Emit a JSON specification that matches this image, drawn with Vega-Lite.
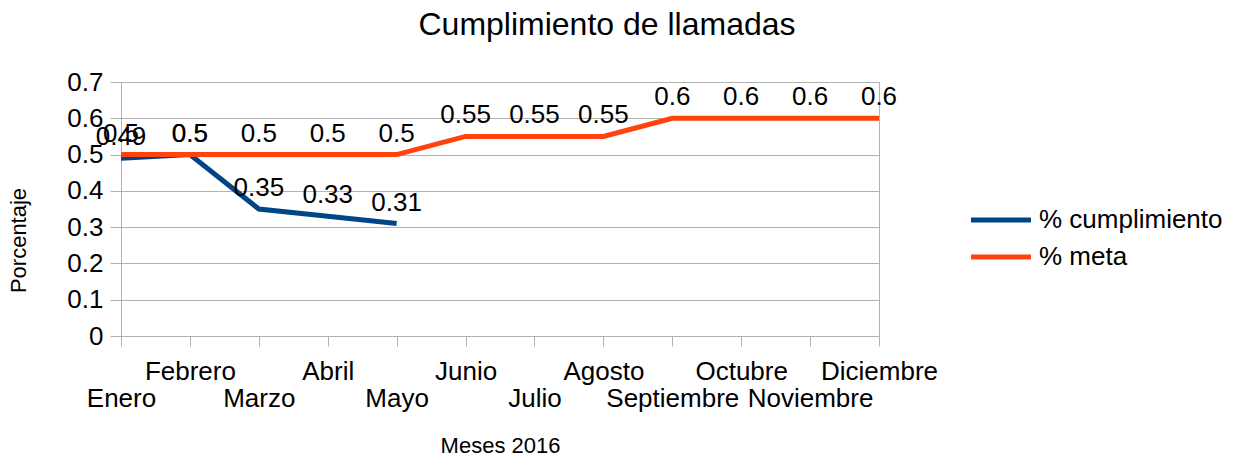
{
  "$schema": "https://vega.github.io/schema/vega-lite/v6.json",
  "autosize": "none",
  "padding": {"left": 121, "top": 82, "right": 363, "bottom": 122},
  "width": 758,
  "height": 254,
  "background": "white",
  "title": {
    "text": "Cumplimiento de llamadas",
    "font": "Liberation Sans",
    "fontSize": 32,
    "fontWeight": "normal",
    "color": "black",
    "anchor": "middle",
    "frame": "group",
    "dx": 107,
    "offset": 27
  },
  "config": {
    "view": {"stroke": "#b3b3b3", "strokeWidth": 1},
    "font": "Liberation Sans"
  },
  "data": {
    "values": [
      {"mes": "Enero", "serie": "% cumplimiento", "valor": 0.49},
      {"mes": "Febrero", "serie": "% cumplimiento", "valor": 0.5},
      {"mes": "Marzo", "serie": "% cumplimiento", "valor": 0.35},
      {"mes": "Abril", "serie": "% cumplimiento", "valor": 0.33},
      {"mes": "Mayo", "serie": "% cumplimiento", "valor": 0.31},
      {"mes": "Enero", "serie": "% meta", "valor": 0.5},
      {"mes": "Febrero", "serie": "% meta", "valor": 0.5},
      {"mes": "Marzo", "serie": "% meta", "valor": 0.5},
      {"mes": "Abril", "serie": "% meta", "valor": 0.5},
      {"mes": "Mayo", "serie": "% meta", "valor": 0.5},
      {"mes": "Junio", "serie": "% meta", "valor": 0.55},
      {"mes": "Julio", "serie": "% meta", "valor": 0.55},
      {"mes": "Agosto", "serie": "% meta", "valor": 0.55},
      {"mes": "Septiembre", "serie": "% meta", "valor": 0.6},
      {"mes": "Octubre", "serie": "% meta", "valor": 0.6},
      {"mes": "Noviembre", "serie": "% meta", "valor": 0.6},
      {"mes": "Diciembre", "serie": "% meta", "valor": 0.6}
    ]
  },
  "encoding": {
    "x": {
      "field": "mes",
      "type": "nominal",
      "sort": ["Enero", "Febrero", "Marzo", "Abril", "Mayo", "Junio", "Julio", "Agosto", "Septiembre", "Octubre", "Noviembre", "Diciembre"],
      "scale": {"type": "point", "padding": 0},
      "axis": {
        "title": "Meses 2016",
        "titleFont": "Liberation Sans",
        "titleFontSize": 22,
        "titleFontWeight": "normal",
        "titleColor": "black",
        "titleBaseline": "top",
        "titleAlign": "center",
        "titleY": 99,
        "labelAngle": 0,
        "labelFont": "Liberation Sans",
        "labelFontSize": 26,
        "labelColor": "black",
        "labelBaseline": "top",
        "labelLineHeight": 27,
        "labelPadding": 12,
        "labelOverlap": false,
        "labelBound": false,
        "labelLimit": 400,
        "labelExpr": "indexof(['Enero','Febrero','Marzo','Abril','Mayo','Junio','Julio','Agosto','Septiembre','Octubre','Noviembre','Diciembre'], datum.value) % 2 == 0 ? [' ', datum.value] : datum.value",
        "tickSize": 10,
        "tickColor": "#b3b3b3",
        "domainColor": "#b3b3b3",
        "grid": false
      }
    },
    "y": {
      "field": "valor",
      "type": "quantitative",
      "scale": {"domain": [0, 0.7], "nice": false},
      "axis": {
        "title": "Porcentaje",
        "titleFont": "Liberation Sans",
        "titleFontSize": 22,
        "titleFontWeight": "normal",
        "titleColor": "black",
        "titleX": -103,
        "titleY": 158,
        "titleAngle": -90,
        "titleAlign": "center",
        "titleBaseline": "middle",
        "values": [0, 0.1, 0.2, 0.3, 0.4, 0.5, 0.6, 0.7],
        "format": ".1~f",
        "labelFont": "Liberation Sans",
        "labelFontSize": 26,
        "labelColor": "black",
        "labelPadding": 7,
        "tickSize": 11,
        "tickColor": "#b3b3b3",
        "domainColor": "#b3b3b3",
        "gridColor": "#b3b3b3",
        "gridWidth": 1
      }
    },
    "color": {
      "field": "serie",
      "type": "nominal",
      "scale": {"domain": ["% cumplimiento", "% meta"], "range": ["#004586", "#ff420e"]},
      "legend": {
        "title": null,
        "orient": "none",
        "legendX": 867,
        "legendY": 125,
        "padding": 0,
        "symbolType": "M-3,0H3",
        "symbolSize": 400,
        "symbolStrokeWidth": 5,
        "labelFont": "Liberation Sans",
        "labelFontSize": 26,
        "labelColor": "black",
        "labelOffset": 25,
        "rowPadding": 11,
        "labelLimit": 400
      }
    }
  },
  "layer": [
    {
      "mark": {"type": "line", "strokeWidth": 5, "strokeJoin": "miter"}
    },
    {
      "mark": {"type": "text", "font": "Liberation Sans", "fontSize": 26, "color": "black", "baseline": "alphabetic", "align": "center", "dy": -13},
      "encoding": {
        "text": {"field": "valor", "type": "quantitative", "format": ".2~f"},
        "color": {"value": "black"}
      }
    }
  ]
}
